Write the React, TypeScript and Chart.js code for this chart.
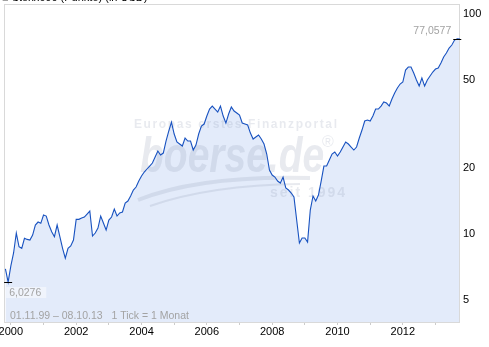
import React, { useEffect, useRef } from "react";
import { Chart, registerables } from "chart.js";

Chart.register(...registerables);

// Monthly closes from Nov 1999 to Oct 2013
const startYear = 1999;
const startMonth = 11;
const values = [
  6.92, 6.03, 7.14, 8.18, 10.08, 8.73, 8.59, 9.54, 9.43, 9.37, 9.87, 10.96,
  11.31, 11.16, 12.17, 12.04, 10.96, 10.21, 9.7, 10.96, 9.7, 8.59, 7.74, 8.59,
  8.8, 9.37, 11.63, 11.63, 11.79, 11.92, 12.3, 12.69, 9.77, 10.08, 10.62, 12.04,
  11.19, 10.4, 11.55, 11.92, 12.95, 12.04, 12.43, 12.56, 13.79, 14.09, 14.85, 15.81,
  16.31, 17.37, 18.3, 19.08, 19.7, 20.32, 20.97, 22.33, 23.78, 22.8, 23.28, 26.4,
  29.31, 32.21, 28.41, 26.13, 25.59, 25.06, 27.25, 26.4, 26.4, 24.03, 25.32, 28.41,
  30.88, 31.54, 34.29, 36.9, 38.08, 36.9, 35.76, 38.08, 34.29, 31.87, 35.02, 37.69,
  36.14, 35.39, 34.66, 31.87, 31.54, 31.21, 28.7, 26.96, 27.53, 28.11, 26.96, 25.59,
  23.05, 19.49, 18.49, 18.11, 17.37, 17.01, 18.11, 16.15, 15.81, 15.32, 14.69, 11.55,
  9.08, 9.57, 9.57, 9.17, 12.82, 14.85, 14.09, 15.0, 17.37, 20.32, 20.32, 21.64,
  23.05, 23.53, 22.56, 23.53, 24.8, 26.13, 25.59, 24.8, 24.03, 24.8, 27.25, 29.62,
  32.55, 32.89, 32.55, 34.29, 36.9, 36.9, 38.08, 39.71, 39.3, 38.08, 40.98, 43.63,
  45.97, 47.94, 48.95, 55.5, 57.27, 57.27, 53.78, 49.99, 46.94, 51.05, 46.94, 49.99,
  52.12, 54.35, 56.08, 56.67, 59.72, 63.6, 66.31, 69.88, 72.1, 75.97, 77.06, 76.8,
];
const yearTicks = [2000, 2001, 2002, 2003, 2004, 2005, 2006, 2007, 2008, 2009, 2010, 2011, 2012, 2013];
const yearLabels = ["2000", "", "2002", "", "2004", "", "2006", "", "2008", "", "2010", "", "2012", ""];
const yTicks = [5, 10, 20, 50, 100];
const yTickLabels = ["5", "10", "20", "50", "100"];
const minLabel = "6,0276";
const maxLabel = "77,0577";
const rangeLabel = "01.11.99 \u2013 08.10.13   1 Tick = 1 Monat";
const titleText = "\u25A0 Stoxx600 (Punkte) (in USD)";
const wmLine1 = "Europas erstes Finanzportal";
const wmLogo = "boerse.de";
const wmSince = "seit 1994";

const FONT = "'Liberation Sans', Arial, sans-serif";

export default function App() {
  const ref = useRef<HTMLCanvasElement | null>(null);

  useEffect(() => {
    document.body.style.margin = "0";
    const canvas = ref.current;
    if (!canvas) return;

    const points = values.map((v, i) => ({ x: startYear + (startMonth - 1 + i) / 12, y: v }));
    let minI = 0;
    let maxI = 0;
    values.forEach((v, i) => {
      if (v < values[minI]) minI = i;
      if (v > values[maxI]) maxI = i;
    });

    const deco = {
      id: "deco",
      beforeDatasetsDraw(chart: any) {
        const { ctx, chartArea: a } = chart;
        ctx.save();
        // watermark
        ctx.fillStyle = "rgba(140,150,175,0.2)";
        ctx.strokeStyle = "rgba(140,150,175,0.2)";
        ctx.font = `bold 12px ${FONT}`;
        (ctx as any).letterSpacing = "1.6px";
        ctx.textBaseline = "middle";
        ctx.textAlign = "left";
        ctx.fillText(wmLine1, 134, 125);
        ctx.font = `bold 14px ${FONT}`;
        (ctx as any).letterSpacing = "2px";
        ctx.fillText(wmSince, 270, 193);
        (ctx as any).letterSpacing = "0px";
        ctx.font = `16px ${FONT}`;
        ctx.fillText("\u00AE", 322, 143);
        ctx.save();
        ctx.translate(140, 172);
        ctx.scale(0.78, 1);
        ctx.font = `italic bold 50px ${FONT}`;
        ctx.textBaseline = "alphabetic";
        ctx.fillText(wmLogo, 0, 0);
        ctx.restore();
        ctx.lineWidth = 4;
        ctx.beginPath();
        ctx.moveTo(138, 200);
        ctx.quadraticCurveTo(200, 175, 310, 178);
        ctx.stroke();
        ctx.lineWidth = 2;
        ctx.beginPath();
        ctx.moveTo(150, 206);
        ctx.quadraticCurveTo(210, 185, 300, 184);
        ctx.stroke();
        ctx.restore();
        // frame
        ctx.save();
        ctx.strokeStyle = "#d9d9d9";
        ctx.lineWidth = 1;
        ctx.strokeRect(a.left + 0.5, a.top + 0.5, a.right - a.left - 1, a.bottom - a.top);
        ctx.restore();
      },
      afterDatasetsDraw(chart: any) {
        const { ctx, scales } = chart;
        const xs = scales.x;
        const ys = scales.y;
        ctx.save();
        ctx.font = `10.5px ${FONT}`;
        // min marker
        const mnx = xs.getPixelForValue(points[minI].x);
        const mny = Math.round(ys.getPixelForValue(values[minI]));
        ctx.strokeStyle = "#000";
        ctx.lineWidth = 1;
        ctx.beginPath();
        ctx.moveTo(mnx - 4, mny + 0.5);
        ctx.lineTo(mnx + 4, mny + 0.5);
        ctx.stroke();
        const tw = ctx.measureText(minLabel).width;
        ctx.fillStyle = "rgba(255,255,255,0.45)";
        ctx.fillRect(mnx - 2, mny + 5, tw + 8, 11);
        ctx.fillStyle = "#a3a3a3";
        ctx.textBaseline = "middle";
        ctx.textAlign = "left";
        ctx.fillText(minLabel, mnx + 1, mny + 11);
        // max marker
        const mxx = xs.getPixelForValue(points[maxI].x);
        const mxy = Math.round(ys.getPixelForValue(values[maxI]));
        ctx.beginPath();
        ctx.moveTo(mxx - 4, mxy + 0.5);
        ctx.lineTo(mxx + 4, mxy + 0.5);
        ctx.stroke();
        ctx.textAlign = "right";
        ctx.fillText(maxLabel, mxx - 6, mxy - 8);
        // range text
        ctx.textAlign = "left";
        ctx.fillText(rangeLabel, 10, 316);
        ctx.restore();
      },
      afterDraw(chart: any) {
        const { ctx } = chart;
        ctx.save();
        ctx.font = `11px ${FONT}`;
        ctx.fillStyle = "#000";
        ctx.textBaseline = "alphabetic";
        ctx.textAlign = "left";
        ctx.fillText(titleText, 2, 1);
        ctx.restore();
      },
    };

    const chart = new Chart(canvas, {
      type: "line",
      data: {
        datasets: [
          {
            data: points,
            borderColor: "#1852c0",
            borderWidth: 1.1,
            backgroundColor: "#e3ebfa",
            fill: "start",
            pointRadius: 0,
            tension: 0,
          },
        ],
      },
      options: {
        animation: false,
        responsive: false,
        devicePixelRatio: 1,
        events: [],
        layout: { padding: { left: 4, top: 4, right: 0, bottom: 0 } },
        plugins: {
          legend: { display: false },
          tooltip: { enabled: false },
          filler: { drawTime: "beforeDraw" } as any,
        },
        scales: {
          x: {
            type: "linear",
            min: 1999.79,
            max: 2013.75,
            grid: { display: true, drawOnChartArea: false, drawTicks: true, tickLength: 3, color: "#cccccc" },
            border: { display: false },
            afterBuildTicks: (s: any) => {
              s.ticks = yearTicks.map((v) => ({ value: v }));
            },
            afterFit: (s: any) => {
              s.height = 25;
              s.paddingLeft = 0;
              s.paddingRight = 0;
            },
            ticks: {
              autoSkip: false,
              maxRotation: 0,
              padding: 0,
              color: "#000",
              font: { family: FONT, size: 11 },
              callback: (v: any) => {
                const k = yearTicks.indexOf(Number(v));
                return k >= 0 ? yearLabels[k] : "";
              },
            },
          },
          y: {
            type: "logarithmic",
            position: "right",
            min: 3.972,
            max: 110.8,
            grid: { display: false, drawTicks: false },
            border: { display: false },
            afterBuildTicks: (s: any) => {
              s.ticks = yTicks.map((v) => ({ value: v }));
            },
            afterFit: (s: any) => {
              s.width = 29;
              s.paddingTop = 0;
              s.paddingBottom = 0;
            },
            ticks: {
              padding: 3,
              color: "#000",
              font: { family: FONT, size: 11 },
              callback: (v: any) => {
                const k = yTicks.indexOf(Number(v));
                return k >= 0 ? yTickLabels[k] : "";
              },
            },
          },
        },
      },
      plugins: [deco],
    });

    return () => chart.destroy();
  }, []);

  return (
    <div style={{ width: 489, height: 347, position: "relative", background: "#fff" }}>
      <canvas ref={ref} width={489} height={347} style={{ width: 489, height: 347, display: "block" }} />
    </div>
  );
}
